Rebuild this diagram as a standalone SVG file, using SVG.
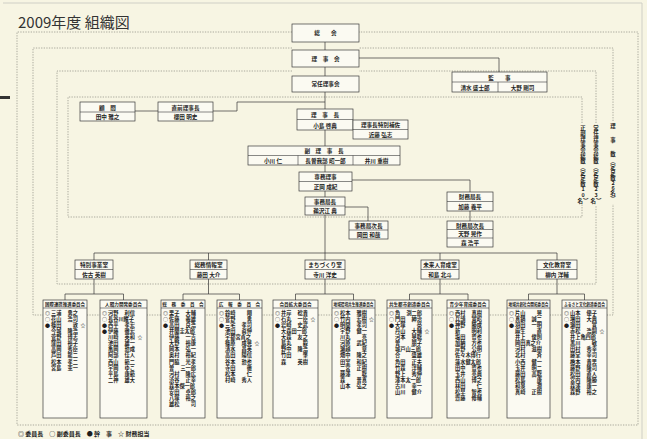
<svg xmlns="http://www.w3.org/2000/svg" width="647" height="439" viewBox="0 0 647 439">
<style>
.bx{fill:#fbfaf2;stroke:#3a3a3a;stroke-width:0.7}
.dl{fill:none;stroke:#8a8a80;stroke-width:0.7;stroke-dasharray:1.3 1.3}
.cn{fill:none;stroke:#333;stroke-width:0.7}
.dv{fill:none;stroke:#3a3a3a;stroke-width:0.6}
text{font-family:"Noto Sans CJK JP","Noto Sans",sans-serif;fill:#1e1e1e}
.h{font-size:5.6px;font-weight:bold;text-anchor:middle}
.ch{font-size:4.6px;font-weight:bold;text-anchor:middle}
.n{font-size:5.2px;font-weight:bold}
.s{font-size:5px;text-anchor:middle}
.a{text-anchor:start}
.e{text-anchor:end}
.vc{font-size:5.4px;font-weight:bold;text-anchor:middle}
</style>
<rect x="0" y="0" width="647" height="439" fill="#f7f5e3"/>
<path d="M3 3H642V439" fill="none" stroke="#cfcfc6" stroke-width="1"/>
<rect x="0" y="96" width="10" height="3" fill="#333"/>
<text x="18" y="28" style="font-size:15px;fill:#333">2009年度 組織図</text>

<g id="boundaries">
<path class="dl" d="M292 32H17V425H638V32H359"/>
<path class="dl" d="M292 48H33V315H613V204M613 121V48H359"/>
<path class="dl" d="M292 71H57V284H596V205M596 123V71H359"/>
<path class="dl" d="M325 97H68V217H582V205M582 123V97H325"/>
</g>
<g id="counts">
<text class="vc" x="613 613 613 613 613 613 613 613 613 613 613" y="128 142 156 163 169 174.5 180 185 189.5 195 201">理事数︵定足数26名︶</text>
<text class="vc" x="596 596 596 596 596 596 596 596 596 596 596 596 596 596" y="129.8 135.4 141 146.6 152.2 157.8 163.4 169 174.6 180.2 185.8 191.4 197 202.6">常任理事会総数︵定足数23名︶</text>
<text class="vc" x="583 583 583 583 583 583 583 583 583 583 583 583 583 583" y="129.8 135.4 141 146.6 152.2 157.8 163.4 169 174.6 180.2 185.8 191.4 197 202.6">正副理事会総数︵定足数10名︶</text>
</g>

<g id="connectors">
<path class="cn" d="M325 42V260"/>
<path class="cn" d="M359 58H499V72"/>
<path class="cn" d="M135 111H158M213 111H237V102H325"/>
<path class="cn" d="M352 180H470V192M470 211V221"/>
<path class="cn" d="M345 207H368V221"/>
<path class="cn" d="M94 253H557M94 253V260M208.5 253V260M440 253V260M557 253V260"/>
<path class="cn" d="M94 279V294M65 294H123.5M65 294V300M123.5 294V300"/>
<path class="cn" d="M208.5 279V294M183 294H239.5M183 294V300M239.5 294V300"/>
<path class="cn" d="M325 279V294M295.5 294H353.5M295.5 294V300M353.5 294V300"/>
<path class="cn" d="M440 279V294M409.5 294H468M409.5 294V300M468 294V300"/>
<path class="cn" d="M557 279V294M528.5 294H584.5M528.5 294V300M584.5 294V300"/>
</g>

<g id="soukai"><rect class="bx" x="292" y="24" width="67" height="18"/><text class="h" x="325.5" y="35">総　　会</text></g>
<g id="rijikai"><rect class="bx" x="292" y="50" width="67" height="17"/><text class="h" x="325.5" y="60.5">理　事　会</text></g>
<g id="jonin"><rect class="bx" x="292" y="76" width="67" height="16"/><text class="h" x="325.5" y="86">常任理事会</text></g>
<g id="kanji"><rect class="bx" x="452" y="72" width="95" height="20"/><path class="dv" d="M452 82H547M498 82V92"/><text class="h" x="499.5" y="79.5">監　　事</text><text class="h" x="475" y="89.5">清水 盛士郎</text><text class="h" x="522.5" y="89.5">大野 剛司</text></g>
<g id="komon"><rect class="bx" x="80" y="102" width="55" height="19"/><path class="dv" d="M80 112H135"/><text class="h" x="107.5" y="109.5">顧　問</text><text class="h" x="107.5" y="119">田中 雅之</text></g>
<g id="chokuzen"><rect class="bx" x="158" y="102" width="55" height="19"/><path class="dv" d="M158 112H213"/><text class="h" x="185.5" y="109.5">直前理事長</text><text class="h" x="185.5" y="119">櫻田 明史</text></g>
<g id="rijicho"><rect class="bx" x="297" y="109" width="56" height="21"/><path class="dv" d="M297 119.5H353"/><text class="h" x="325" y="116.5">理　事　長</text><text class="h" x="325" y="127.5">小島 啓典</text></g>
<g id="hosa"><rect class="bx" x="353" y="120" width="55" height="19"/><path class="dv" d="M353 129.5H408"/><text class="h" x="380.5" y="127">理事長特別補佐</text><text class="h" x="380.5" y="136.5">近藤 弘志</text></g>
<g id="fukurijicho"><rect class="bx" x="248" y="146" width="152" height="19"/><path class="dv" d="M248 155.5H400M298 155.5V165M353 155.5V165"/><text class="h" x="324" y="153">副　理　事　長</text><text class="h" x="273" y="163">小川 仁</text><text class="h" x="325.5" y="163">長曽我部 昭一郎</text><text class="h" x="376.5" y="163">井川 重樹</text></g>
<g id="senmu"><rect class="bx" x="299" y="172" width="53" height="19"/><path class="dv" d="M299 181.5H352"/><text class="h" x="325.5" y="179">専務理事</text><text class="h" x="325.5" y="188.5">正岡 成紀</text></g>
<g id="jimukyokucho"><rect class="bx" x="305" y="197" width="40" height="18"/><path class="dv" d="M305 206H345"/><text class="h" x="325" y="204">事務局長</text><text class="h" x="325" y="213">鵜沢江 典</text></g>
<g id="jimujicho"><rect class="bx" x="349" y="221" width="39" height="18"/><path class="dv" d="M349 230H388"/><text class="h" x="368.5" y="228">事務局次長</text><text class="h" x="368.5" y="237">岡田 和哉</text></g>
<g id="zaimukyokucho"><rect class="bx" x="447" y="192" width="46" height="19"/><path class="dv" d="M447 201.5H493"/><text class="h" x="470" y="199">財務局長</text><text class="h" x="470" y="208.5">加藤 義平</text></g>
<g id="zaimujicho"><rect class="bx" x="447" y="221" width="46" height="26"/><path class="dv" d="M447 229.5H493M447 238H493"/><text class="h" x="470" y="227.5">財務局次長</text><text class="h" x="470" y="236">天野 晃作</text><text class="h" x="470" y="244.5">森 浩平</text></g>

<g id="room1"><rect class="bx" x="75" y="260" width="38" height="19"/><path class="dv" d="M75 269.5H113"/><text class="h" x="94" y="267">特別事業室</text><text class="h" x="94" y="276.5">佐古 英樹</text></g>
<g id="room2"><rect class="bx" x="190" y="260" width="37" height="19"/><path class="dv" d="M190 269.5H227"/><text class="h" x="208.5" y="267">総務情報室</text><text class="h" x="208.5" y="276.5">藤田 大介</text></g>
<g id="room3"><rect class="bx" x="305" y="260" width="40" height="19"/><path class="dv" d="M305 269.5H345"/><text class="h" x="325" y="267">まちづくり室</text><text class="h" x="325" y="276.5">寺川 洋史</text></g>
<g id="room4"><rect class="bx" x="421" y="260" width="38" height="19"/><path class="dv" d="M421 269.5H459"/><text class="h" x="440" y="267">未来人育成室</text><text class="h" x="440" y="276.5">和島 北斗</text></g>
<g id="room5"><rect class="bx" x="537" y="260" width="40" height="19"/><path class="dv" d="M537 269.5H577"/><text class="h" x="557" y="267">文化教育室</text><text class="h" x="557" y="276.5">柳内 洋輔</text></g>

<g id="c1" transform="translate(43,0)"><rect class="bx" x="0" y="300" width="44" height="118"/><path class="dv" d="M0 308H44"/><text class="ch" x="22" y="306" textLength="40" lengthAdjust="spacingAndGlyphs">国際連携推進委員会</text>
<text class="s" x="4.5" y="314.7">◎</text><text class="n a" x="8" y="314.7">三浦</text><text class="n e" x="35" y="314.7">勇之</text>
<text class="s" x="4.5" y="320.8">○</text><text class="n a" x="8" y="320.8">花山</text><text class="n e" x="35" y="320.8">浩司</text>
<text class="s" x="4.5" y="326.9">●</text><text class="n a" x="8" y="326.9">篠田</text><text class="n e" x="35" y="326.9">敦</text><text class="s" x="40" y="326.9">☆</text>
<text class="n a" x="8" y="333">今城</text><text class="n e" x="35" y="333">隆浩</text>
<text class="n a" x="8" y="339.1">菅野</text><text class="n e" x="35" y="339.1">博志</text>
<text class="n a" x="8" y="345.2">窪田</text><text class="n e" x="35" y="345.2">裕子</text>
<text class="n a" x="8" y="351.3">高岡</text><text class="n e" x="35" y="351.3">秀臣</text>
<text class="n a" x="8" y="357.4">芦田</text><text class="n e" x="35" y="357.4">龍二</text>
<text class="n a" x="8" y="363.5">松本</text><text class="n e" x="35" y="363.5">孝二</text>
<text class="n a" x="8" y="369.6">宮島</text><text class="n e" x="35" y="369.6">憲一</text>
</g>
<g id="c2" transform="translate(100,0)"><rect class="bx" x="0" y="300" width="47" height="118"/><path class="dv" d="M0 308H47"/><text class="ch" x="23.5" y="306">人間力開発委員会</text>
<text class="s" x="4.5" y="314.7">◎</text><text class="n a" x="8" y="314.7">河野</text><text class="n e" x="35" y="314.7">利信</text>
<text class="s" x="4.5" y="320.8">○</text><text class="n a" x="8" y="320.8">長谷川耀子</text>
<text class="s" x="4.5" y="326.9">●</text><text class="n a" x="8" y="326.9">西平</text><text class="n e" x="35" y="326.9">孝宏</text>
<text class="s" x="4.5" y="333">●</text><text class="n a" x="8" y="333">伊藤</text><text class="n e" x="35" y="333">徹宏</text>
<text class="n a" x="8" y="339.1">川崎</text><text class="n e" x="35" y="339.1">英和</text><text class="s" x="40" y="339.1">☆</text>
<text class="n a" x="8" y="345.2">池田</text><text class="n e" x="35" y="345.2">雄一</text>
<text class="n a" x="8" y="351.3">亀岡</text><text class="n e" x="35" y="351.3">勲成</text>
<text class="n a" x="8" y="357.4">阿部</text><text class="n e" x="35" y="357.4">佳人</text>
<text class="n a" x="8" y="363.5">西山</text><text class="n e" x="35" y="363.5">範二</text>
<text class="n a" x="8" y="369.6">宇岡</text><text class="n e" x="35" y="369.6">ゆこ</text>
<text class="n a" x="8" y="375.7">平島</text><text class="n e" x="35" y="375.7">康範</text>
<text class="n a" x="8" y="381.8">二神</text><text class="n e" x="35" y="381.8">雄大</text>
</g>
<g id="c3" transform="translate(161,0)"><rect class="bx" x="0" y="300" width="44" height="118"/><path class="dv" d="M0 308H44"/><text class="ch" x="22" y="306">総　務　委　員　会</text>
<text class="s" x="4.5" y="314.7">◎</text><text class="n a" x="8" y="314.7">栗子</text><text class="n e" x="35" y="314.7">大輔</text>
<text class="s" x="4.5" y="320.8">○</text><text class="n a" x="8" y="320.8">佐藤</text><text class="n e" x="35" y="320.8">義雄</text>
<text class="s" x="4.5" y="326.9">●</text><text class="n a" x="8" y="326.9">高田</text><text class="n e" x="35" y="326.9">良浩</text>
<text class="n a" x="8" y="333">井関圭太郎</text>
<text class="n a" x="8" y="339.1">伊藤</text><text class="n e" x="35" y="339.1">一吉</text>
<text class="n a" x="8" y="345.2">大野</text><text class="n e" x="35" y="345.2">裕康</text>
<text class="n a" x="8" y="351.3">岡本</text><text class="n e" x="35" y="351.3">弘一</text>
<text class="n a" x="8" y="357.4">奥村</text><text class="n e" x="35" y="357.4">裕紀</text>
<text class="n a" x="8" y="363.5">門脇</text><text class="n e" x="35" y="363.5">光孝</text>
<text class="n a" x="8" y="369.6">曽</text><text class="n e" x="35" y="369.6">三一郎</text>
<text class="n a" x="8" y="375.7">河村</text><text class="n e" x="35" y="375.7">隆広</text>
<text class="n a" x="8" y="381.8">渋谷</text><text class="n e" x="35" y="381.8">正幸</text>
<text class="n a" x="8" y="387.9">森本傑一郎</text>
<text class="n a" x="8" y="394">安田</text><text class="n e" x="35" y="394">卓郎</text>
<text class="n a" x="8" y="400.1">八塚</text><text class="n e" x="35" y="400.1">裕之</text>
<text class="n a" x="8" y="406.2">雄松</text><text class="n e" x="35" y="406.2">司</text>
</g>
<g id="c4" transform="translate(217,0)"><rect class="bx" x="0" y="300" width="45" height="118"/><path class="dv" d="M0 308H45"/><text class="ch" x="22.5" y="306">広　報　委　員　会</text>
<text class="s" x="4.5" y="314.7">◎</text><text class="n a" x="8" y="314.7">鈴崎</text><text class="n e" x="35" y="314.7">翔</text>
<text class="s" x="4.5" y="320.8">○</text><text class="n a" x="8" y="320.8">菅野</text><text class="n e" x="35" y="320.8">勇</text>
<text class="s" x="4.5" y="326.9">●</text><text class="n a" x="8" y="326.9">三宅</text><text class="n e" x="35" y="326.9">孝司</text>
<text class="n a" x="8" y="333">池田</text><text class="n e" x="35" y="333">眞伸</text>
<text class="n a" x="8" y="339.1">宇都宮貞之</text>
<text class="n a" x="8" y="345.2">篠原</text><text class="n e" x="35" y="345.2">成晃</text><text class="s" x="40" y="345.2">☆</text>
<text class="n a" x="8" y="351.3">清水</text><text class="n e" x="35" y="351.3">昌英</text>
<text class="n a" x="8" y="357.4">高田</text><text class="n e" x="35" y="357.4">陽信</text>
<text class="n a" x="8" y="363.5">谷本</text><text class="n e" x="35" y="363.5">勲也</text>
<text class="n a" x="8" y="369.6">寺田</text><text class="n e" x="35" y="369.6">徹</text>
<text class="n a" x="8" y="375.7">松本</text><text class="n e" x="35" y="375.7">仁</text>
<text class="n a" x="8" y="381.8">村崎</text><text class="n e" x="35" y="381.8">秀人</text>
</g>
<g id="c5" transform="translate(273,0)"><rect class="bx" x="0" y="300" width="45" height="118"/><path class="dv" d="M0 308H45"/><text class="ch" x="22.5" y="306">会員拡大委員会</text>
<text class="s" x="4.5" y="314.7">◎</text><text class="n a" x="8" y="314.7">井岸</text><text class="n e" x="35" y="314.7">稔貴</text>
<text class="s" x="4.5" y="320.8">○</text><text class="n a" x="8" y="320.8">石丸</text><text class="n e" x="35" y="320.8">一臣</text><text class="s" x="40" y="320.8">☆</text>
<text class="s" x="4.5" y="326.9">●</text><text class="n a" x="8" y="326.9">岩崎</text><text class="n e" x="35" y="326.9">史武</text>
<text class="n a" x="8" y="333">大森田一郎</text>
<text class="n a" x="8" y="339.1">大森</text><text class="n e" x="35" y="339.1">友之</text>
<text class="n a" x="8" y="345.2">島丸</text><text class="n e" x="35" y="345.2">毅</text>
<text class="n a" x="8" y="351.3">野中</text><text class="n e" x="35" y="351.3">隆浩</text>
<text class="n a" x="8" y="357.4">竹田</text><text class="n e" x="35" y="357.4">肇</text>
<text class="n a" x="8" y="363.5">森</text><text class="n e" x="35" y="363.5">英樹</text>
</g>
<g id="c6" transform="translate(332,0)"><rect class="bx" x="0" y="300" width="43" height="118"/><path class="dv" d="M0 308H43"/><text class="ch" x="21.5" y="306" textLength="40" lengthAdjust="spacingAndGlyphs">地域環境共生推進委員会</text>
<text class="s" x="4.5" y="314.7">◎</text><text class="n a" x="8" y="314.7">松本</text><text class="n e" x="35" y="314.7">雅樹</text>
<text class="s" x="4.5" y="320.8">○</text><text class="n a" x="8" y="320.8">竹内</text><text class="n e" x="35" y="320.8">宏樹</text><text class="s" x="39.5" y="320.8">☆</text>
<text class="s" x="4.5" y="326.9">●</text><text class="n a" x="8" y="326.9">明間</text><text class="n e" x="35" y="326.9">孝司</text>
<text class="n a" x="8" y="333">宇野</text><text class="n e" x="35" y="333">健一</text>
<text class="n a" x="8" y="339.1">川丸</text><text class="n e" x="35" y="339.1">亮</text>
<text class="n a" x="8" y="345.2">河原</text><text class="n e" x="35" y="345.2">武紀</text>
<text class="n a" x="8" y="351.3">瀬越</text><text class="n e" x="35" y="351.3">章</text>
<text class="n a" x="8" y="357.4">畑中</text><text class="n e" x="35" y="357.4">隆之</text>
<text class="n a" x="8" y="363.5">田室</text><text class="n e" x="35" y="363.5">和紀</text>
<text class="n a" x="8" y="369.6">二宮</text><text class="n e" x="35" y="369.6">正樹</text>
<text class="n a" x="8" y="375.7">藤澤</text><text class="n e" x="35" y="375.7">聡</text>
<text class="n a" x="8" y="381.8">森</text><text class="n e" x="35" y="381.8">普真</text>
<text class="n a" x="8" y="387.9">山本</text><text class="n e" x="35" y="387.9">弘之</text>
</g>
<g id="c7" transform="translate(387,0)"><rect class="bx" x="0" y="300" width="45" height="118"/><path class="dv" d="M0 308H45"/><text class="ch" x="22.5" y="306" textLength="41" lengthAdjust="spacingAndGlyphs">共生都市創造委員会</text>
<text class="s" x="4.5" y="314.7">◎</text><text class="n a" x="8" y="314.7">角</text><text class="n e" x="35" y="314.7">渕二郎</text>
<text class="s" x="4.5" y="320.8">○</text><text class="n a" x="8" y="320.8">門田</text><text class="n e" x="35" y="320.8">紳治</text>
<text class="s" x="4.5" y="326.9">●</text><text class="n a" x="8" y="326.9">大塚</text><text class="n e" x="35" y="326.9">豪</text>
<text class="n a" x="8" y="333">丹山</text><text class="n e" x="35" y="333">大輔</text><text class="s" x="40" y="333">☆</text>
<text class="n a" x="8" y="339.1">河本</text><text class="n e" x="35" y="339.1">晃聡</text>
<text class="n a" x="8" y="345.2">曽</text><text class="n e" x="35" y="345.2">朋子</text>
<text class="n a" x="8" y="351.3">城戸山三郎</text>
<text class="n a" x="8" y="357.4">合</text><text class="n e" x="35" y="357.4">盛雄</text>
<text class="n a" x="8" y="363.5">角田</text><text class="n e" x="35" y="363.5">正夫</text>
<text class="n a" x="8" y="369.6">竹森</text><text class="n e" x="35" y="369.6">洋輔</text>
<text class="n a" x="8" y="375.7">野上</text><text class="n e" x="35" y="375.7">秀伸</text>
<text class="n a" x="8" y="381.8">澤本太一郎</text>
<text class="n a" x="8" y="387.9">古川</text><text class="n e" x="35" y="387.9">幸一</text>
<text class="n a" x="8" y="394">山川</text><text class="n e" x="35" y="394">健介</text>
</g>
<g id="c8" transform="translate(447,0)"><rect class="bx" x="0" y="300" width="42" height="118"/><path class="dv" d="M0 308H42"/><text class="ch" x="21" y="306">青少年育成委員会</text>
<text class="s" x="4.5" y="314.7">◎</text><text class="n a" x="8" y="314.7">西村</text><text class="n e" x="35" y="314.7">真樹</text>
<text class="s" x="4.5" y="320.8">○</text><text class="n a" x="8" y="320.8">兵頭</text><text class="n e" x="35" y="320.8">寛昭</text>
<text class="s" x="4.5" y="326.9">●</text><text class="n a" x="8" y="326.9">神野</text><text class="n e" x="35" y="326.9">勝成</text>
<text class="n a" x="8" y="333">新</text><text class="n e" x="35" y="333">明利</text>
<text class="n a" x="8" y="339.1">塩田</text><text class="n e" x="35" y="339.1">哲也</text>
<text class="n a" x="8" y="345.2">加納</text><text class="n e" x="35" y="345.2">方也</text>
<text class="n a" x="8" y="351.3">岸野</text><text class="n e" x="35" y="351.3">公明</text>
<text class="n a" x="8" y="357.4">佐々木博行</text>
<text class="n a" x="8" y="363.5">蓮水健太郎</text>
<text class="n a" x="8" y="369.6">田中</text><text class="n e" x="35" y="369.6">哲也</text>
<text class="n a" x="8" y="375.7">玉井</text><text class="n e" x="35" y="375.7">亮典</text>
<text class="n a" x="8" y="381.8">西山</text><text class="n e" x="35" y="381.8">博之</text>
<text class="n a" x="8" y="387.9">林田</text><text class="n e" x="35" y="387.9">仁</text>
<text class="n a" x="8" y="394">松早</text><text class="n e" x="35" y="394">智也</text>
<text class="n a" x="8" y="400.1">齋藤</text><text class="n e" x="35" y="400.1">修輔</text>
</g>
<g id="c9" transform="translate(507,0)"><rect class="bx" x="0" y="300" width="43" height="118"/><path class="dv" d="M0 308H43"/><text class="ch" x="21.5" y="306" textLength="40" lengthAdjust="spacingAndGlyphs">地域共創社会開拓委員会</text>
<text class="s" x="4.5" y="314.7">◎</text><text class="n a" x="8" y="314.7">片山</text><text class="n e" x="35" y="314.7">晃</text>
<text class="s" x="4.5" y="320.8">○</text><text class="n a" x="8" y="320.8">真鍋</text><text class="n e" x="35" y="320.8">誠二</text>
<text class="s" x="4.5" y="326.9">●</text><text class="n a" x="8" y="326.9">羽田</text><text class="n e" x="35" y="326.9">一明</text>
<text class="n a" x="8" y="333">麻生</text><text class="n e" x="35" y="333">直</text>
<text class="n a" x="8" y="339.1">井上</text><text class="n e" x="35" y="339.1">俊則</text>
<text class="n a" x="8" y="345.2">岡田真之介</text>
<text class="n a" x="8" y="351.3">河村</text><text class="n e" x="35" y="351.3">滋樹</text>
<text class="n a" x="8" y="357.4">北村</text><text class="n e" x="35" y="357.4">斉</text>
<text class="n a" x="8" y="363.5">小西</text><text class="n e" x="35" y="363.5">健一</text>
<text class="n a" x="8" y="369.6">玉井</text><text class="n e" x="35" y="369.6">明二</text>
<text class="n a" x="8" y="375.7">藤田</text><text class="n e" x="35" y="375.7">高聡</text>
<text class="n a" x="8" y="381.8">松島</text><text class="n e" x="35" y="381.8">康</text>
<text class="n a" x="8" y="387.9">和泉</text><text class="n e" x="35" y="387.9">潤</text>
<text class="n a" x="8" y="394">真崎</text><text class="n e" x="35" y="394">正樹</text>
</g>
<g id="c10" transform="translate(562,0)"><rect class="bx" x="0" y="300" width="45" height="118"/><path class="dv" d="M0 308H45"/><text class="ch" x="22.5" y="306" textLength="41" lengthAdjust="spacingAndGlyphs">ふるさと文化創造委員会</text>
<text class="s" x="4.5" y="314.7">◎</text><text class="n a" x="8" y="314.7">山本</text><text class="n e" x="35" y="314.7">優子</text>
<text class="s" x="4.5" y="320.8">○</text><text class="n a" x="8" y="320.8">増田</text><text class="n e" x="35" y="320.8">大典</text>
<text class="s" x="4.5" y="326.9">●</text><text class="n a" x="8" y="326.9">瀬田</text><text class="n e" x="35" y="326.9">寛</text>
<text class="n a" x="8" y="333">赤松</text><text class="n e" x="35" y="333">浩嗣</text><text class="s" x="40" y="333">☆</text>
<text class="n a" x="8" y="339.1">井上亀四郎</text>
<text class="n a" x="8" y="345.2">黒川</text><text class="n e" x="35" y="345.2">敏</text>
<text class="n a" x="8" y="351.3">田村</text><text class="n e" x="35" y="351.3">秀幸</text>
<text class="n a" x="8" y="357.4">藤堂</text><text class="n e" x="35" y="357.4">幸司</text>
<text class="n a" x="8" y="363.5">橋本</text><text class="n e" x="35" y="363.5">貴男</text>
<text class="n a" x="8" y="369.6">藤野</text><text class="n e" x="35" y="369.6">隆司</text>
<text class="n a" x="8" y="375.7">松田</text><text class="n e" x="35" y="375.7">直人</text>
<text class="n a" x="8" y="381.8">宮内</text><text class="n e" x="35" y="381.8">隆勝</text>
<text class="n a" x="8" y="387.9">森澤</text><text class="n e" x="35" y="387.9">康一</text>
<text class="n a" x="8" y="394">森野</text><text class="n e" x="35" y="394">裕之</text>
</g>

<text x="18" y="436" style="font-size:6px;font-weight:bold">◎ 委員長　○ 副委員長　● 幹　事　☆ 財務担当</text>
</svg>
